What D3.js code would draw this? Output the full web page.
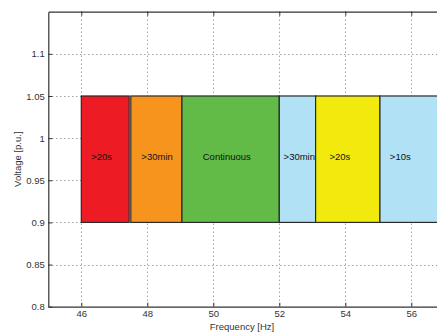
<!DOCTYPE html>
<html><head><meta charset="utf-8">
<script src="https://cdn.jsdelivr.net/npm/d3@7"></script>
<style>body{margin:0;background:#fff;} text{font-family:"Liberation Sans",Arial,sans-serif;}</style>
</head><body>
<svg id="c" width="437" height="334"></svg>
<script>
const bandStart = [46, 47.5, 49.05, 52, 53.1, 55.05];
const bandEnd   = [47.45, 49.05, 52, 53.1, 55.05, 57];
const bandLow   = [0.9, 0.9, 0.9, 0.9, 0.9, 0.9];
const bandHigh  = [1.05, 1.05, 1.05, 1.05, 1.05, 1.05];
const bandLabels = [">20s", ">30min", "Continuous", ">30min", ">20s", ">10s"];
const labelX = [46.3, 47.82, 49.68, 52.13, 53.52, 55.35];
const labelY = 0.977;
const bandColors = ["#ED1C24", "#F7941E", "#62BB46", "#B0E1F5", "#F2EA0C", "#B0E1F5"];
const xTicks = [46, 48, 50, 52, 54, 56];
const yTicks = [0.8, 0.85, 0.9, 0.95, 1, 1.05, 1.1];
const yTickLabels = ["0.8", "0.85", "0.9", "0.95", "1", "1.05", "1.1"];

const L = 48.3, R = 444.3, T = 11.7, B = 306.7;
const x = d3.scaleLinear().domain([45, 57]).range([L, R]);
const y = d3.scaleLinear().domain([0.8, 1.15]).range([B, T]);
const svg = d3.select("#c");

// grid
const grid = svg.append("g").attr("stroke", "#777").attr("stroke-width", 1).attr("stroke-dasharray", "1,3");
grid.selectAll("line.vx").data(xTicks).join("line")
  .attr("x1", d => Math.round(x(d)) + 0.5).attr("x2", d => Math.round(x(d)) + 0.5)
  .attr("y1", T).attr("y2", B);
grid.selectAll("line.hy").data(yTicks.slice(1)).join("line")
  .attr("y1", d => Math.round(y(d)) + 0.5).attr("y2", d => Math.round(y(d)) + 0.5)
  .attr("x1", L).attr("x2", R);

// bands
const bands = bandStart.map((s, i) => ({s, e: bandEnd[i], lo: bandLow[i], hi: bandHigh[i], c: bandColors[i], t: bandLabels[i], lx: labelX[i]}));
svg.append("g").selectAll("rect").data(bands).join("rect")
  .attr("x", d => x(d.s)).attr("width", d => x(d.e) - x(d.s))
  .attr("y", d => y(d.hi)).attr("height", d => y(d.lo) - y(d.hi))
  .attr("fill", d => d.c).attr("stroke", "#2a2a2a").attr("stroke-width", 1.2);

svg.append("g").selectAll("text").data(bands).join("text")
  .attr("x", d => x(d.lx)).attr("y", y(labelY))
  .attr("dominant-baseline", "middle")
  .attr("font-size", "9.5px").attr("fill", "#111")
  .text(d => d.t);

// axes
const xAxisB = d3.axisBottom(x).tickValues(xTicks).tickFormat(d3.format("d")).tickSizeInner(-4).tickSizeOuter(0).tickPadding(4);
const gxb = svg.append("g").attr("transform", `translate(0,${B})`).call(xAxisB);
const xAxisT = d3.axisTop(x).tickValues(xTicks).tickFormat("").tickSizeInner(-4).tickSizeOuter(0);
const gxt = svg.append("g").attr("transform", `translate(0,${T})`).call(xAxisT);
const yAxis = d3.axisLeft(y).tickValues(yTicks).tickFormat((d, i) => yTickLabels[i]).tickSizeInner(-4).tickSizeOuter(0).tickPadding(3.5);
const gy = svg.append("g").attr("transform", `translate(${L},0)`).call(yAxis);
[gxb, gxt, gy].forEach(g => {
  g.select(".domain").attr("stroke", "#333").attr("stroke-width", 1.2);
  g.selectAll(".tick line").attr("stroke", "#333");
  g.selectAll(".tick text").attr("font-size", "9.5px").attr("fill", "#333").attr("font-family", "Liberation Sans, Arial, sans-serif");
});

svg.append("text").attr("x", 242).attr("y", 329.5).attr("text-anchor", "middle")
  .attr("font-size", "9.5px").attr("fill", "#333").text("Frequency [Hz]");
svg.append("text").attr("transform", `translate(21,${(T + B) / 2}) rotate(-90)`)
  .attr("text-anchor", "middle").attr("font-size", "9.5px").attr("fill", "#333").text("Voltage [p.u.]");
</script>
</body></html>
